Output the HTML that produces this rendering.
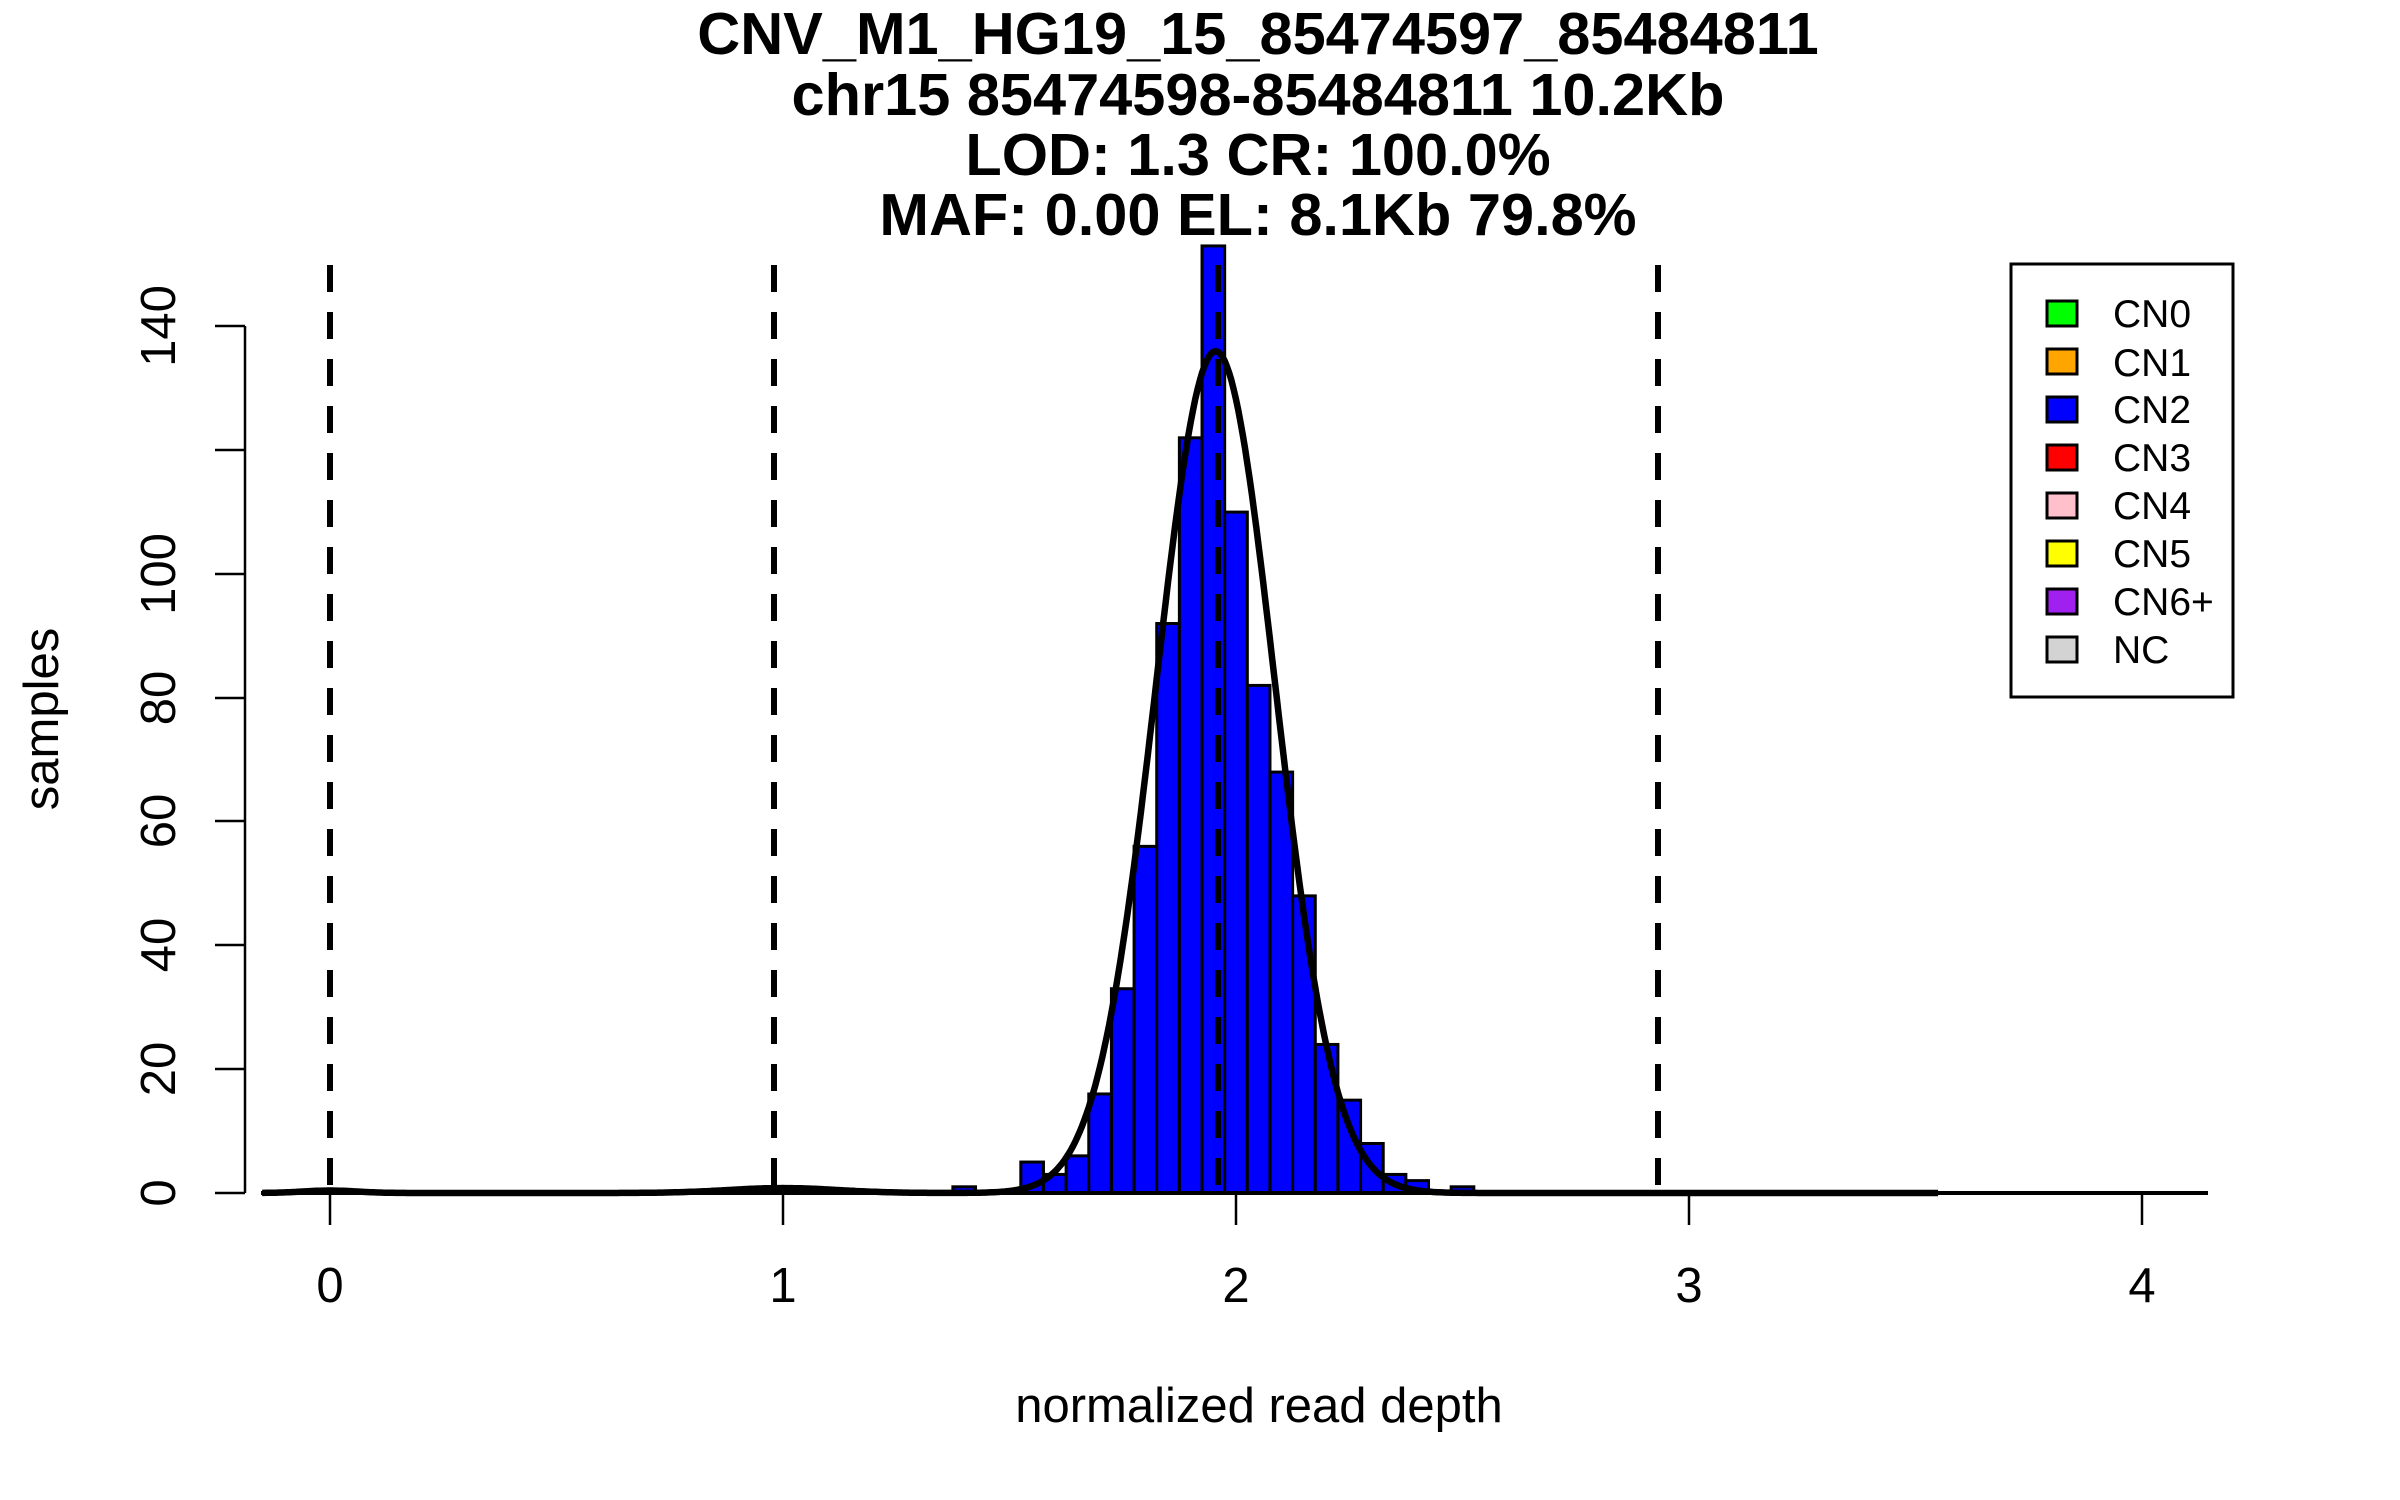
<!DOCTYPE html>
<html><head><meta charset="utf-8"><style>
html,body{margin:0;padding:0;background:#fff;}
svg{display:block;}
text{font-family:"Liberation Sans",Arial,sans-serif;fill:#000;}
</style></head><body>
<svg id="s" width="2400" height="1500" viewBox="0 0 2400 1500" xmlns="http://www.w3.org/2000/svg">
<g font-weight="bold" font-size="59.5" text-anchor="middle">
<text x="1258" y="54">CNV_M1_HG19_15_85474597_85484811</text>
<text x="1258" y="115">chr15 85474598-85484811 10.2Kb</text>
<text x="1258" y="175">LOD: 1.3 CR: 100.0%</text>
<text x="1258" y="235">MAF: 0.00 EL: 8.1Kb 79.8%</text>
</g>
<g id="bars" fill="#0000ff" stroke="#000" stroke-width="3"></g>
<line x1="261" y1="1193" x2="2208" y2="1193" stroke="#000" stroke-width="4"/>
<g stroke="#000" stroke-width="2.5">
<line x1="245" y1="326" x2="245" y2="1193"/>
<line x1="215" y1="1193" x2="245" y2="1193"/>
<line x1="215" y1="1069" x2="245" y2="1069"/>
<line x1="215" y1="945" x2="245" y2="945"/>
<line x1="215" y1="821" x2="245" y2="821"/>
<line x1="215" y1="698" x2="245" y2="698"/>
<line x1="215" y1="574" x2="245" y2="574"/>
<line x1="215" y1="450" x2="245" y2="450"/>
<line x1="215" y1="326" x2="245" y2="326"/>
<line x1="330" y1="1193" x2="330" y2="1225"/>
<line x1="783" y1="1193" x2="783" y2="1225"/>
<line x1="1236" y1="1193" x2="1236" y2="1225"/>
<line x1="1689" y1="1193" x2="1689" y2="1225"/>
<line x1="2142" y1="1193" x2="2142" y2="1225"/>
</g>
<g font-size="49" text-anchor="middle">
<text x="330" y="1302">0</text>
<text x="783" y="1302">1</text>
<text x="1236" y="1302">2</text>
<text x="1689" y="1302">3</text>
<text x="2142" y="1302">4</text>
<text x="1259" y="1422">normalized read depth</text>
<text transform="translate(175,1193) rotate(-90)">0</text>
<text transform="translate(175,1069) rotate(-90)">20</text>
<text transform="translate(175,945) rotate(-90)">40</text>
<text transform="translate(175,821) rotate(-90)">60</text>
<text transform="translate(175,698) rotate(-90)">80</text>
<text transform="translate(175,574) rotate(-90)">100</text>
<text transform="translate(175,326) rotate(-90)">140</text>
<text transform="translate(58,719) rotate(-90)">samples</text>
</g>
<g stroke="#000" stroke-width="6" stroke-dasharray="27 20">
<line x1="330" y1="265" x2="330" y2="1193"/>
<line x1="774" y1="265" x2="774" y2="1193"/>
<line x1="1218" y1="265" x2="1218" y2="1193"/>
<line x1="1658" y1="265" x2="1658" y2="1193"/>
</g>
<path id="curve" fill="none" stroke="#000" stroke-width="6.5" stroke-linejoin="round"/>
<rect x="2011" y="264" width="222" height="433" fill="#fff" stroke="#000" stroke-width="3"/>
<g stroke="#000" stroke-width="3">
<rect x="2047" y="301" width="30" height="25" fill="#00ff00"/>
<rect x="2047" y="349" width="30" height="25" fill="#ffa500"/>
<rect x="2047" y="397" width="30" height="25" fill="#0000ff"/>
<rect x="2047" y="445" width="30" height="25" fill="#ff0000"/>
<rect x="2047" y="493" width="30" height="25" fill="#ffc0cb"/>
<rect x="2047" y="541" width="30" height="25" fill="#ffff00"/>
<rect x="2047" y="589" width="30" height="25" fill="#a020f0"/>
<rect x="2047" y="637" width="30" height="25" fill="#d3d3d3"/>
</g>
<g font-size="39">
<text x="2113" y="327">CN0</text>
<text x="2113" y="376">CN1</text>
<text x="2113" y="423">CN2</text>
<text x="2113" y="471">CN3</text>
<text x="2113" y="519">CN4</text>
<text x="2113" y="567">CN5</text>
<text x="2113" y="615">CN6+</text>
<text x="2113" y="663">NC</text>
</g>
</svg>
<script>
(function(){
var X=function(v){return 330+453*v;};
var Y=function(c){return 1193-c*6.19;};
var bars=[[0.975,1],[1.375,1],[1.525,5],[1.575,3],[1.625,6],[1.675,16],[1.725,33],[1.775,56],[1.825,92],[1.875,122],[1.925,153],[1.975,110],[2.025,82],[2.075,68],[2.125,48],[2.175,24],[2.225,15],[2.275,8],[2.325,3],[2.375,2],[2.475,1]];
var g=document.getElementById('bars'),ns='http://www.w3.org/2000/svg';
bars.forEach(function(b){var r=document.createElementNS(ns,'rect');var x0=X(b[0]),x1=X(b[0]+0.05);r.setAttribute('x',x0);r.setAttribute('width',x1-x0);r.setAttribute('y',Y(b[1]));r.setAttribute('height',b[1]*6.19);g.appendChild(r);});
var d='';
for(var v=-0.15;v<=3.55;v+=0.005){
var c=136*Math.exp(-Math.pow(v-1.955,2)/(2*0.131*0.131))+0.4*Math.exp(-v*v/(2*0.06*0.06))+0.8*Math.exp(-Math.pow(v-1,2)/(2*0.12*0.12));
d+=(d?'L':'M')+X(v).toFixed(1)+' '+Y(c).toFixed(1);}
document.getElementById('curve').setAttribute('d',d);
})();
</script>
</body></html>
